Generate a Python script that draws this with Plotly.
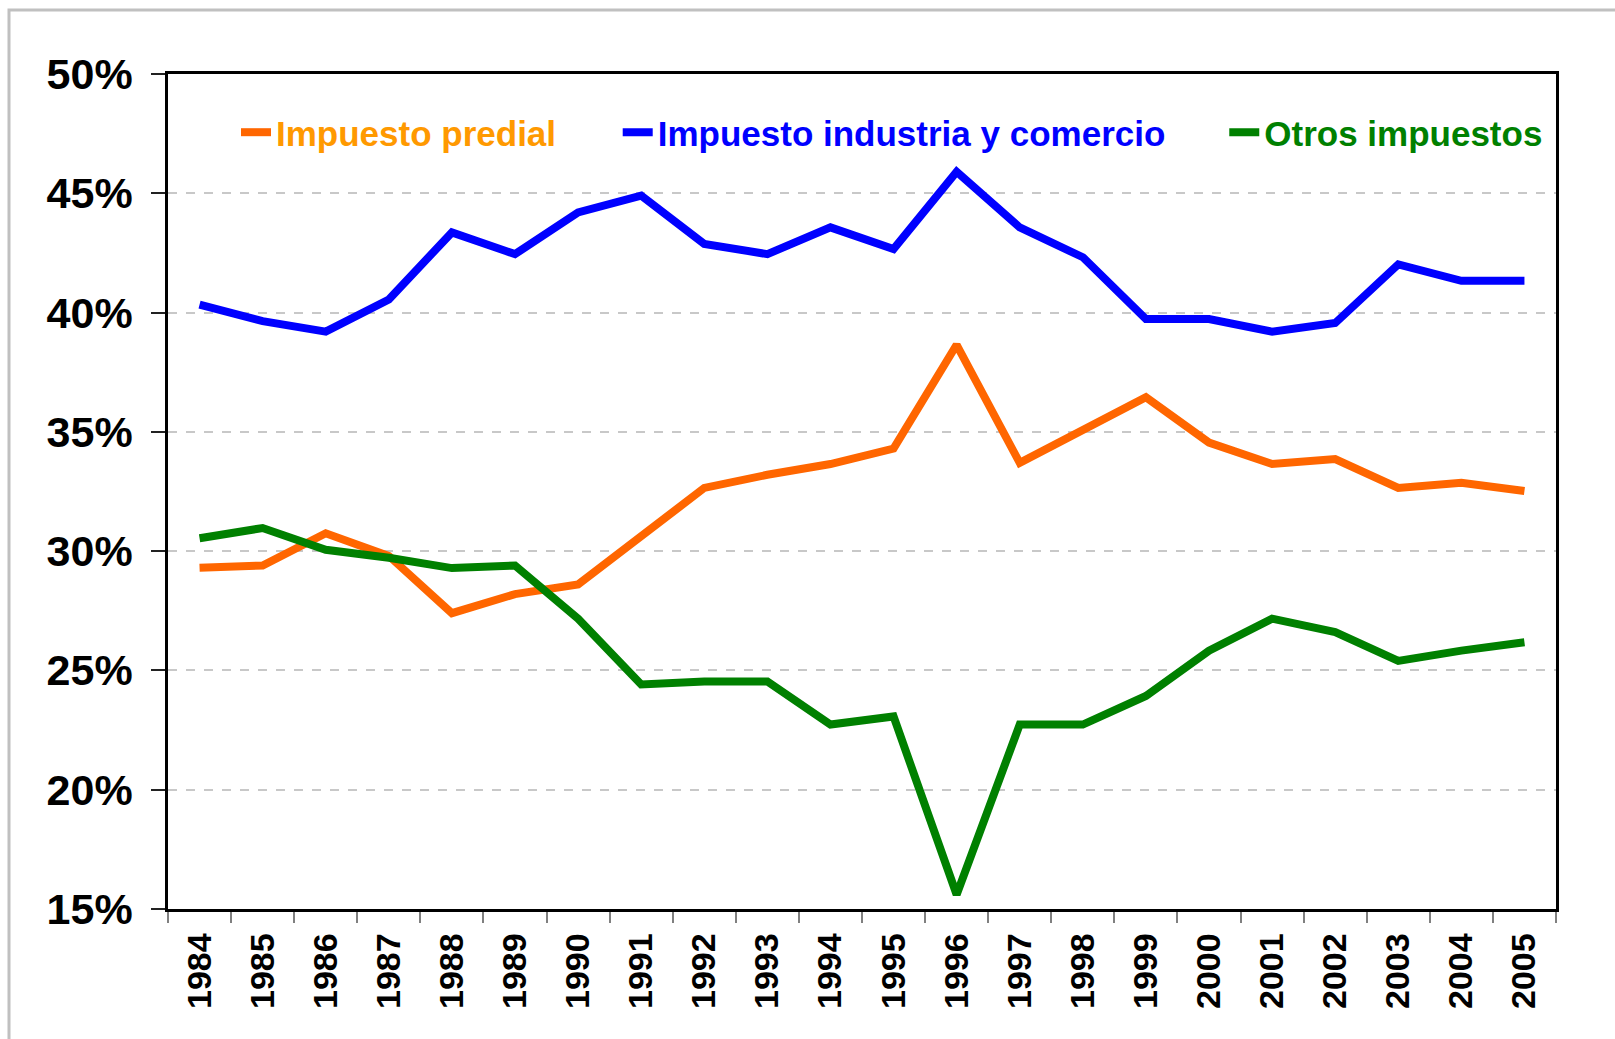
import plotly.graph_objects as go

years = [str(y) for y in range(1984, 2006)]
predial = [29.3, 29.4, 30.75, 29.8, 27.4, 28.2, 28.6, 30.6, 32.65, 33.2, 33.65, 34.3,
           38.65, 33.7, 35.07, 36.45, 34.55, 33.65, 33.86, 32.65, 32.87, 32.52]
industria = [40.33, 39.64, 39.2, 40.55, 43.36, 42.45, 44.2, 44.9, 42.88, 42.45, 43.57, 42.66,
             45.9, 43.57, 42.32, 39.73, 39.73, 39.2, 39.56, 42.02, 41.33, 41.33]
otros = [30.54, 30.97, 30.06, 29.72, 29.29, 29.4, 27.17, 24.41, 24.54, 24.54, 22.73, 23.07,
         15.6, 22.73, 22.73, 23.93, 25.83, 27.17, 26.61, 25.4, 25.83, 26.18]
y_ticks = [15, 20, 25, 30, 35, 40, 45, 50]
y_labels = [f"{v}%" for v in y_ticks]

series = [
    ("Impuesto predial", predial, "#FF6600", "legend"),
    ("Impuesto industria y comercio", industria, "#0000FF", "legend2"),
    ("Otros impuestos", otros, "#008000", "legend3"),
]

fig = go.Figure()
for name, vals, lc, lg in series:
    fig.add_trace(go.Scatter(x=years, y=vals, mode="lines", name=name,
                             line=dict(color=lc, width=8), legend=lg))

FONT = "Liberation Sans, Arial, sans-serif"
leg_common = dict(orientation="h", yanchor="middle", y=0.93, xanchor="left",
                  bgcolor="rgba(0,0,0,0)", borderwidth=0)

fig.update_layout(
    width=1615, height=1039,
    margin=dict(l=168, r=59, t=74, b=130),
    paper_bgcolor="white", plot_bgcolor="white",
    font=dict(family=FONT, color="black"),
    showlegend=True,
    legend=dict(x=0.049, font=dict(family=FONT, size=35, color="#FF9900", weight="bold"), **leg_common),
    legend2=dict(x=0.324, font=dict(family=FONT, size=35, color="#0000FF", weight="bold"), **leg_common),
    legend3=dict(x=0.761, font=dict(family=FONT, size=35, color="#008000", weight="bold"), **leg_common),
    xaxis=dict(
        type="category", tickson="boundaries", ticks="outside", ticklen=11,
        tickcolor="#808080", tickwidth=1.5, tickangle=-90,
        tickfont=dict(family=FONT, size=34, color="black", weight="bold"),
        ticklabelstandoff=8, automargin=False,
        showline=True, linecolor="black", linewidth=2.5, mirror=True,
        showgrid=False, range=[-0.5, len(years) - 0.5],
    ),
    yaxis=dict(
        range=[15, 50], tickmode="array", tickvals=y_ticks, ticktext=y_labels,
        ticks="outside", ticklen=14, tickcolor="#222222", tickwidth=1.5,
        tickfont=dict(family=FONT, size=43, color="black", weight="bold"),
        ticklabelstandoff=10, automargin=False,
        showline=True, linecolor="black", linewidth=2.5, mirror=True,
        showgrid=True, gridcolor="#c8c8c8", gridwidth=1.5, griddash="dash",
        zeroline=False,
    ),
    shapes=[dict(type="rect", xref="paper", yref="paper",
                 x0=(9 - 168) / 1388, x1=1.5, y0=-0.5, y1=(909 - 10) / 835,
                 line=dict(color="#c0c0c0", width=3), fillcolor="rgba(0,0,0,0)",
                 layer="below")],
)

fig.write_html("out.html", config={"displayModeBar": False},
               post_script="document.body.style.margin='0px';")
